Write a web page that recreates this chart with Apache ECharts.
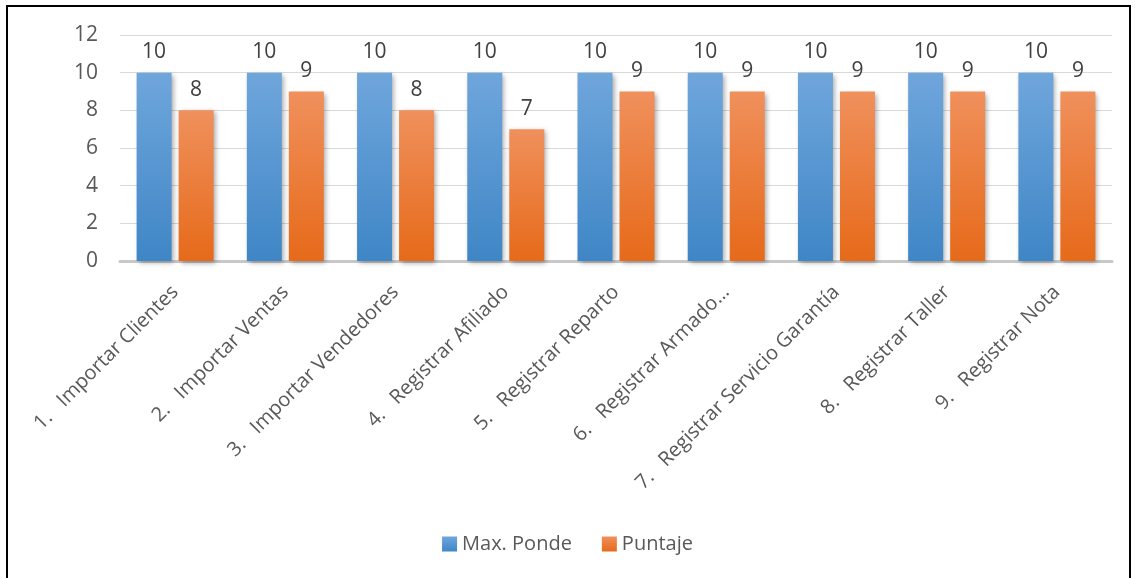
<!DOCTYPE html>
<html>
<head>
<meta charset="utf-8">
<script src="https://cdn.jsdelivr.net/npm/echarts@6/dist/echarts.min.js"></script>
<style>
  html, body { margin: 0; padding: 0; background: #fff; }
  #frame { position: absolute; left: 6px; top: 5px; width: 1125px; height: 580px; border: 2px solid #000; box-sizing: border-box; }
  #chart { position: absolute; left: 0; top: 0; width: 1135px; height: 578px; }
</style>
</head>
<body>
<div id="frame"></div>
<div id="chart"></div>
<script>
// Tareas evaluadas
const categories = [
  '1.   Importar Clientes',
  '2.   Importar Ventas',
  '3.   Importar Vendedores',
  '4.   Registrar Afiliado',
  '5.   Registrar Reparto',
  '6.   Registrar Armado…',
  '7.   Registrar Servicio Garantía',
  '8.   Registrar Taller',
  '9.   Registrar Nota'
];
const maxPonde = [10, 10, 10, 10, 10, 10, 10, 10, 10];
const puntaje = [8, 9, 8, 7, 9, 9, 9, 9, 9];
const seriesNames = ['Max. Ponde', 'Puntaje'];

const font = 'Open Sans';
const txt = '#595959';

function grad(top, bottom) {
  return new echarts.graphic.LinearGradient(0, 0, 0, 1, [
    { offset: 0, color: top },
    { offset: 1, color: bottom }
  ]);
}

const barShadow = {
  shadowBlur: 5,
  shadowOffsetX: 2,
  shadowOffsetY: 2,
  shadowColor: 'rgba(0,0,0,0.35)'
};

const valueLabel = { show: true, position: 'top', distance: 10, fontFamily: font, fontSize: 21, color: '#404040' };

const chart = echarts.init(document.getElementById('chart'), null, { renderer: 'canvas' });
chart.setOption({
  animation: false,
  textStyle: { fontFamily: font },
  grid: { left: 120, right: 23, top: 35, bottom: 317, containLabel: false },
  legend: {
    bottom: 19,
    left: 'center',
    itemWidth: 15,
    itemHeight: 15,
    itemGap: 30,
    icon: 'rect',
    textStyle: { fontFamily: font, fontSize: 20, color: txt },
    data: seriesNames
  },
  xAxis: {
    type: 'category',
    data: categories,
    axisTick: { show: false },
    axisLine: { lineStyle: { color: '#c8c8c8', width: 3 } },
    axisLabel: {
      interval: 0,
      rotate: 45,
      margin: 28,
      fontFamily: font,
      fontSize: 20,
      color: txt
    }
  },
  yAxis: {
    type: 'value',
    min: 0,
    max: 12,
    interval: 2,
    axisLine: { show: false },
    axisTick: { show: false },
    splitLine: { lineStyle: { color: '#d9d9d9', width: 1 } },
    axisLabel: { fontFamily: font, fontSize: 21, color: txt, margin: 22 }
  },
  series: [
    {
      name: seriesNames[0],
      type: 'bar',
      data: maxPonde,
      barWidth: 35,
      barGap: '20%',
      itemStyle: Object.assign({ color: grad('#6fa6dc', '#3f86c6') }, barShadow),
      label: valueLabel
    },
    {
      name: seriesNames[1],
      type: 'bar',
      data: puntaje,
      barWidth: 35,
      itemStyle: Object.assign({ color: grad('#f0905c', '#e66a1a') }, barShadow),
      label: valueLabel
    }
  ]
});
</script>
</body>
</html>
